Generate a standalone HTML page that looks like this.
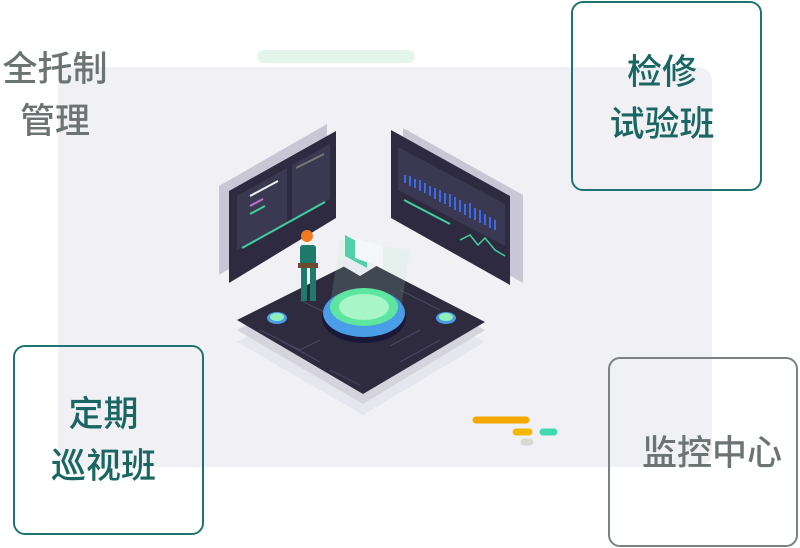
<!DOCTYPE html>
<html><head><meta charset="utf-8"><style>
html,body{margin:0;padding:0;background:#fff;width:800px;height:548px;overflow:hidden;position:relative;font-family:"Liberation Sans","Noto Sans CJK SC",sans-serif}
.t{position:absolute;text-align:center;line-height:52px;font-weight:500}
.box{position:absolute;border:2px solid #1f7472;border-radius:12px;box-sizing:border-box;background:transparent}
</style></head><body>
<div style="position:absolute;left:58px;top:67px;width:654px;height:400px;background:#f1f1f5;border-radius:14px"></div>
<div style="position:absolute;left:257px;top:50px;width:158px;height:13px;background:#e4f6ec;border-radius:7px"></div>
<svg style="position:absolute;left:0;top:0" width="800" height="548">
 <polygon points="237,342 361,276 485,342 363,415" fill="#e6e6ee"/>
 <polygon points="237,330 361,266 485,330 363,404" fill="#d4d3de"/>
 <polygon points="237,320 361,258 485,322 363,394" fill="#2e2b3f"/>
 <g stroke="#4a4662" stroke-width="1" fill="none">
  <path d="M260,330 l40,20 l20,-10 M280,340 l40,22 M300,300 l30,15 M400,290 l40,20 M420,330 l-30,16 M440,340 l-40,22 M330,370 l30,15"/>
 </g>
 <polygon points="340,240 330,305 400,315 410,250" fill="#a8f0c8" opacity="0.15"/>
 <polygon points="219,186 327,124 327,210 219,275" fill="#c9c7d6"/>
 <polygon points="229,191 336,131 336,218 229,283" fill="#2e2b40"/>
 <polygon points="237,196 287,168 287,222 237,250" fill="#3b3852"/>
 <polygon points="292,165 330,144 330,199 292,220" fill="#3b3852"/>
 <line x1="250" y1="196" x2="278" y2="181" stroke="#eee" stroke-width="2"/>
 <line x1="250" y1="206" x2="263" y2="199" stroke="#c070d0" stroke-width="2"/>
 <line x1="250" y1="214" x2="265" y2="206" stroke="#40d0a0" stroke-width="2"/>
 <line x1="242" y1="248" x2="325" y2="202" stroke="#40d0a0" stroke-width="2"/>
 <line x1="296" y1="168" x2="324" y2="154" stroke="#777" stroke-width="2"/>
 <polygon points="403,128 523,195 523,283 403,215" fill="#c9c7d6"/>
 <polygon points="391,130 510,196 510,285 391,218" fill="#2e2b40"/>
 <polygon points="398,147 505,204 505,246 398,190" fill="#3b3852"/>
 <g stroke="#3a6ae8" stroke-width="2">
  <line x1="405" y1="175" x2="405" y2="183"/><line x1="410" y1="176" x2="410" y2="186"/><line x1="415" y1="179" x2="415" y2="188"/><line x1="420" y1="180" x2="420" y2="191"/><line x1="425" y1="183" x2="425" y2="193"/><line x1="430" y1="186" x2="430" y2="196"/><line x1="435" y1="188" x2="435" y2="199"/><line x1="440" y1="190" x2="440" y2="202"/><line x1="445" y1="193" x2="445" y2="204"/><line x1="450" y1="194" x2="450" y2="207"/><line x1="455" y1="197" x2="455" y2="210"/><line x1="460" y1="200" x2="460" y2="212"/><line x1="465" y1="204" x2="465" y2="215"/><line x1="470" y1="203" x2="470" y2="218"/><line x1="475" y1="208" x2="475" y2="220"/><line x1="480" y1="210" x2="480" y2="223"/><line x1="485" y1="214" x2="485" y2="225"/><line x1="490" y1="217" x2="490" y2="228"/><line x1="495" y1="220" x2="495" y2="230"/>
 </g>
 <line x1="404" y1="200" x2="450" y2="224" stroke="#40d0a0" stroke-width="2"/>
 <polyline points="460,240 470,235 478,245 485,238 495,250 505,256" stroke="#40d0a0" fill="none" stroke-width="1.5"/>
 <polygon points="336,262 360,248 383,262 360,276" fill="#e8ecf0"/>
 <polygon points="345,235 367,247 367,268 345,256" fill="#50d0a8"/>
 <polygon points="355,238 383,246 383,268 355,258" fill="#f4f6f8"/>
 <ellipse cx="364" cy="318" rx="42" ry="25" fill="#1a1838"/>
 <ellipse cx="364" cy="313" rx="41" ry="24" fill="#4a9ee8"/>
 <ellipse cx="364" cy="307" rx="34" ry="19" fill="#5ee6a0"/>
 <ellipse cx="364" cy="307" rx="25" ry="13" fill="#a8f5c8"/>
 <ellipse cx="277" cy="318" rx="10" ry="6" fill="#4a9ee8"/><ellipse cx="277" cy="317" rx="7" ry="4" fill="#8ff0b8"/>
 <ellipse cx="446" cy="318" rx="10" ry="6" fill="#4a9ee8"/><ellipse cx="446" cy="317" rx="7" ry="4" fill="#8ff0b8"/>
 <circle cx="307" cy="236" r="6" fill="#f07a20"/>
 <rect x="300" y="245" width="16" height="20" rx="3" fill="#1e7a6a"/>
 <rect x="298" y="263" width="20" height="5" fill="#6a4a30"/>
 <rect x="301" y="268" width="6" height="33" fill="#1e7a6a"/><rect x="310" y="268" width="6" height="33" fill="#1e7a6a"/>
 <line x1="476" y1="420" x2="526" y2="420" stroke="#f5a800" stroke-width="7" stroke-linecap="round"/>
 <line x1="516" y1="432" x2="529" y2="432" stroke="#f5b800" stroke-width="7" stroke-linecap="round"/>
 <line x1="543" y1="432" x2="554" y2="432" stroke="#40d8b0" stroke-width="7" stroke-linecap="round"/>
 <line x1="524" y1="442" x2="530" y2="442" stroke="#d8d8d4" stroke-width="7" stroke-linecap="round"/>
</svg>
<div class="t" style="left:0;top:44px;width:110px;font-size:35px;color:#6b7472">全托制<br>管理</div>
<div class="box" style="left:571px;top:1px;width:191px;height:190px"></div>
<div class="t" style="left:571px;top:47px;width:182px;font-size:35px;color:#1a6663">检修<br>试验班</div>
<div class="box" style="left:13px;top:345px;width:191px;height:190px"></div>
<div class="t" style="left:8px;top:389px;width:191px;font-size:35px;color:#1a6663">定期<br>巡视班</div>
<div class="box" style="left:608px;top:357px;width:190px;height:190px;border-color:#7a8281"></div>
<div class="t" style="left:632px;top:428px;width:160px;font-size:35px;color:#6b7472">监控中心</div>
</body></html>
